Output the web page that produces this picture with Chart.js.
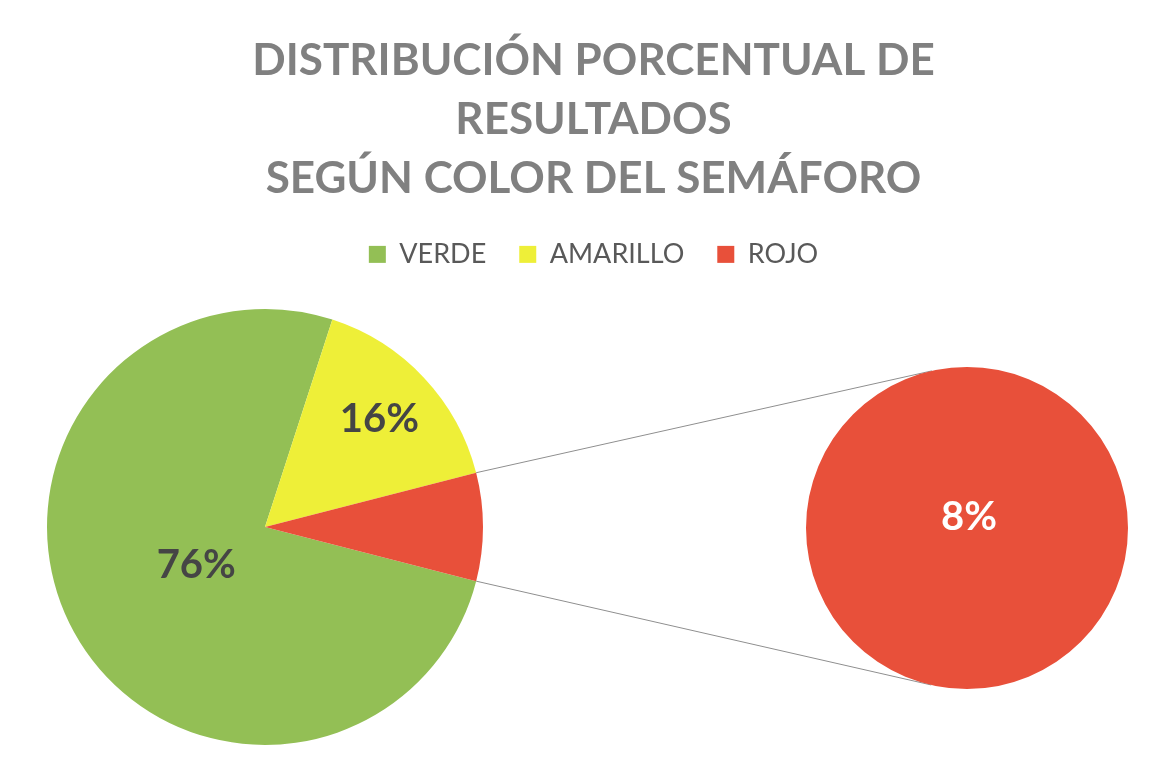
<!DOCTYPE html>
<html>
<head>
<meta charset="utf-8" />
<style>
  body { margin: 0; padding: 0; background: #ffffff; }
  #wrap { position: relative; width: 1167px; height: 773px; }
  #main { position: absolute; left: 0; top: 0; }
  #second { position: absolute; left: 806px; top: 367px; }
</style>
</head>
<body>
<div id="wrap">
  <canvas id="main" width="1167" height="773"></canvas>
  <canvas id="second" width="322" height="322"></canvas>
</div>
<script src="https://cdn.jsdelivr.net/npm/chart.js"></script>
<script>
const categories = ['VERDE', 'AMARILLO', 'ROJO'];
const values = [76, 16, 8];
const valueLabels = ['76%', '16%', '8%'];
const colors = ['#93bf55', '#eeef38', '#e8503a'];
const titleLines = ['DISTRIBUCIÓN PORCENTUAL DE', 'RESULTADOS', 'SEGÚN COLOR DEL SEMÁFORO'];

// slice 2 (ROJO) is split out into the second pie
const splitIndex = 2;
const total = values.reduce((a, b) => a + b, 0);
const splitShare = values[splitIndex] / total;

Chart.defaults.font.family = 'Lato, "Open Sans", sans-serif';

const secondChart = new Chart(document.getElementById('second'), {
  type: 'pie',
  data: {
    labels: [categories[splitIndex]],
    datasets: [{
      data: [values[splitIndex]],
      backgroundColor: [colors[splitIndex]],
      borderWidth: 0
    }]
  },
  options: {
    responsive: false,
    animation: false,
    devicePixelRatio: 1,
    layout: { padding: 0 },
    plugins: { legend: { display: false }, tooltip: { enabled: false } }
  },
  plugins: [{
    id: 'secLabel',
    afterDatasetsDraw(chart) {
      const arc = chart.getDatasetMeta(0).data[0];
      const ctx = chart.ctx;
      ctx.save();
      ctx.font = 'bold 40px Lato, sans-serif';
      ctx.fillStyle = '#ffffff';
      ctx.textAlign = 'center';
      ctx.textBaseline = 'middle';
      ctx.fillText(valueLabels[splitIndex], arc.x + 2, arc.y - arc.outerRadius * 0.07);
      ctx.restore();
    }
  }]
});

const labelFrac = [0.36, 0.72, null];

new Chart(document.getElementById('main'), {
  type: 'pie',
  data: {
    labels: categories,
    datasets: [{
      data: values,
      backgroundColor: colors,
      borderWidth: 0
    }]
  },
  options: {
    responsive: false,
    animation: false,
    devicePixelRatio: 1,
    rotation: 90 + splitShare * 180,
    radius: 218,
    layout: { padding: { left: 20, bottom: 21 } },
    plugins: {
      tooltip: { enabled: false },
      title: {
        display: true,
        text: titleLines,
        color: '#808080',
        font: { size: 44, weight: 'bold', lineHeight: 1.34 },
        padding: { top: 31, bottom: 0 }
      },
      legend: {
        position: 'top',
        labels: {
          color: '#595959',
          font: { size: 27 },
          boxWidth: 17,
          boxHeight: 17,
          padding: 33
        }
      }
    }
  },
  plugins: [{
    id: 'pieLeft',
    afterLayout(chart) {
      const a = chart.chartArea;
      a.left = 47;
      a.right = 483;
      a.width = a.right - a.left;
      a.top += 24;
      a.height = a.bottom - a.top;
    }
  }, {
    id: 'connectors',
    afterDatasetsDraw(chart) {
      const ctx = chart.ctx;
      const arc = chart.getDatasetMeta(0).data[splitIndex];
      const sec = secondChart.getDatasetMeta(0).data[0];
      const cv = secondChart.canvas;
      const cx = cv.offsetLeft + sec.x;
      const cy = cv.offsetTop + sec.y;
      const r = sec.outerRadius;
      const ends = [[arc.startAngle, -1], [arc.endAngle, 1]];
      ctx.save();
      ctx.strokeStyle = '#8f8f8f';
      ctx.lineWidth = 1;
      ends.forEach(([ang, side]) => {
        const px = arc.x + Math.cos(ang) * arc.outerRadius;
        const py = arc.y + Math.sin(ang) * arc.outerRadius;
        const d = Math.hypot(cx - px, cy - py);
        const base = Math.atan2(cy - py, cx - px);
        const alpha = Math.asin(r / d);
        const len = Math.sqrt(d * d - r * r);
        const dir = base + side * alpha;
        ctx.beginPath();
        ctx.moveTo(px, py);
        ctx.lineTo(px + Math.cos(dir) * len, py + Math.sin(dir) * len);
        ctx.stroke();
      });
      ctx.restore();
    }
  }, {
    id: 'pieLabels',
    afterDatasetsDraw(chart) {
      const ctx = chart.ctx;
      ctx.save();
      ctx.font = 'bold 40px Lato, sans-serif';
      ctx.fillStyle = '#454545';
      ctx.textAlign = 'center';
      ctx.textBaseline = 'middle';
      chart.getDatasetMeta(0).data.forEach((arc, i) => {
        if (labelFrac[i] === null) return;
        const mid = (arc.startAngle + arc.endAngle) / 2;
        const rr = arc.outerRadius * labelFrac[i];
        ctx.fillText(valueLabels[i], arc.x + Math.cos(mid) * rr, arc.y + Math.sin(mid) * rr);
      });
      ctx.restore();
    }
  }]
});
</script>
</body>
</html>
